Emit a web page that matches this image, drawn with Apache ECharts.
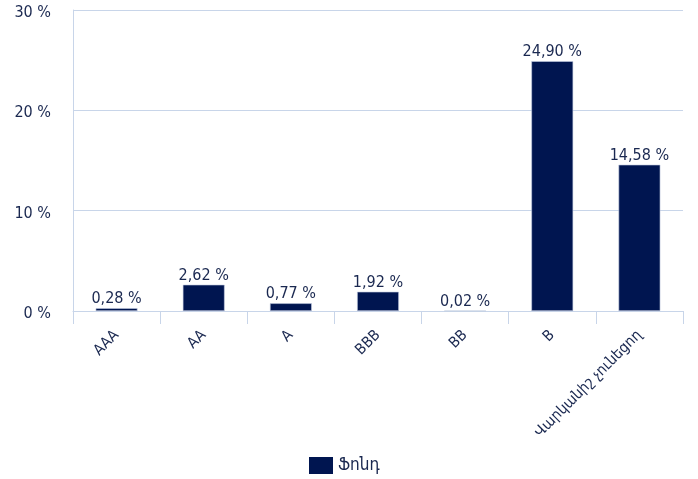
<!DOCTYPE html>
<html><head><meta charset="utf-8">
<script src="https://cdn.jsdelivr.net/npm/echarts@6/dist/echarts.min.js"></script>
<style>html,body{margin:0;padding:0;background:#fff}#c{width:698px;height:479px}</style>
</head><body><div id="c"></div>
<script>
const categories = ['AAA','AA','A','BBB','BB','B','Վարկանիշ չունեցող'];
const fundValues = [0.28, 2.62, 0.77, 1.92, 0.02, 24.90, 14.58];
const yTicks = [0, 10, 20, 30];
const seriesName = 'Ֆոնդ';

const navy = '#001550';
const textColor = '#1a2850';
const gridColor = '#c8d5e9';
const font = '"DejaVu Sans Condensed", "DejaVu Sans", sans-serif';

const chart = echarts.init(document.getElementById('c'));
chart.setOption({
  animation: false,
  textStyle: {fontFamily: font},
  grid: {left: 73, right: 15, top: 10, bottom: 168, containLabel: false},
  legend: {
    bottom: 5, left: 309, padding: 0, itemWidth: 24, itemHeight: 17, itemGap: 6,
    icon: 'rect',
    itemStyle: {borderWidth: 0},
    textStyle: {color: textColor, fontSize: 17, fontFamily: font},
    data: [seriesName]
  },
  xAxis: {
    type: 'category', data: categories,
    axisLine: {show: true, lineStyle: {color: gridColor, width: 1}},
    axisTick: {show: true, length: 13, lineStyle: {color: gridColor}},
    axisLabel: {rotate: 45, color: textColor, fontSize: 15, fontFamily: font, margin: 22, interval: 0}
  },
  yAxis: {
    type: 'value', min: yTicks[0], max: yTicks[yTicks.length-1], interval: 10,
    axisLine: {show: true, lineStyle: {color: gridColor}},
    axisTick: {show: false},
    splitLine: {lineStyle: {color: gridColor, width: 1}},
    axisLabel: {formatter: '{value} %', color: textColor, fontSize: 16, fontFamily: font, margin: 22, verticalAlign: 'top', lineHeight: 16, padding: [-5, 0, 0, 0]}
  },
  series: [{
    name: seriesName, type: 'bar', data: fundValues, barWidth: '48%',
    itemStyle: {color: navy, borderColor: '#c3cde0', borderWidth: 0.6},
    label: {
      show: true, position: 'top', distance: 1, color: textColor, fontSize: 16, fontFamily: font,
      formatter: p => p.value.toFixed(2).replace('.', ',') + ' %'
    }
  }]
});
</script></body></html>
